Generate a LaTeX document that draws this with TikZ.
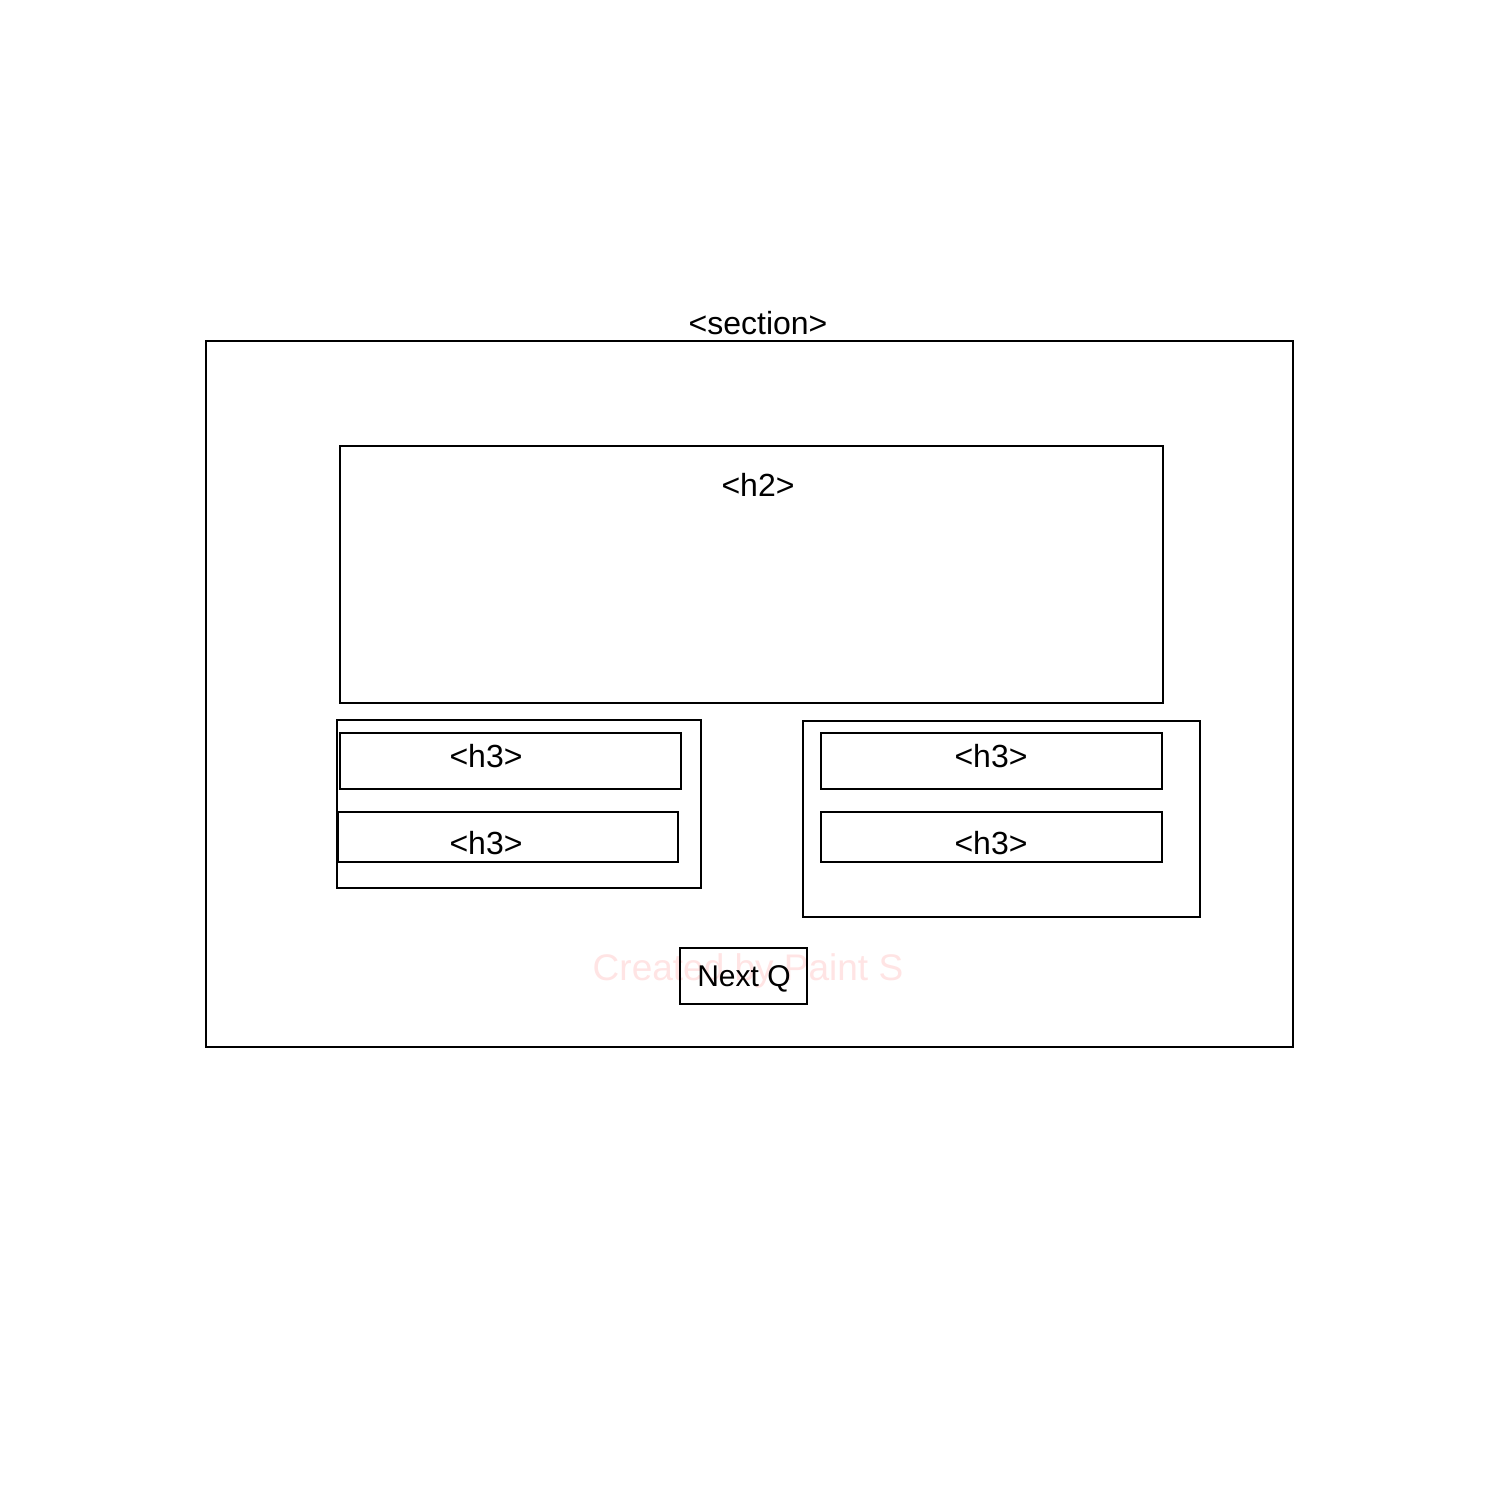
\documentclass[tikz,border=0pt]{standalone}
\usepackage{fontspec}
\setmainfont{Liberation Sans}
\definecolor{wmpink}{RGB}{255,228,228}
\begin{document}
\begin{tikzpicture}[x=0.5pt,y=-0.5pt,
  box/.style={draw=black, line width=1pt, rectangle, inner sep=0pt, fill=none},
  lbl/.style={inner sep=0pt, font=\fontsize{16pt}{18pt}\selectfont},
  wm/.style={inner sep=0pt, text=wmpink, font=\fontsize{18.5pt}{20pt}\selectfont}]
\useasboundingbox (0,0) rectangle (1500,1500);
\fill[white] (0,0) rectangle (1500,1500);
% faint watermark
\node[wm] (wmark) at (748,971) {Created by Paint S};
% boxes
\node[box, minimum width=543.5pt, minimum height=353pt] (section) at (749.5,694) {};
\node[box, minimum width=411.5pt, minimum height=128.5pt] (h2) at (751.5,574.5) {};
\node[box, minimum width=182pt, minimum height=84pt] (leftc) at (519,804) {};
\node[box, minimum width=170.5pt, minimum height=28pt] (lt) at (510.5,761) {};
\node[box, minimum width=170pt, minimum height=25pt] (lb) at (508,837) {};
\node[box, minimum width=198.5pt, minimum height=98pt] (rightc) at (1001.5,819) {};
\node[box, minimum width=170.5pt, minimum height=28pt] (rt) at (991.5,761) {};
\node[box, minimum width=170.5pt, minimum height=25pt] (rb) at (991.5,837) {};
\node[box, minimum width=63.5pt, minimum height=28pt] (next) at (743.5,976) {};
% labels
\node[lbl] (sectionlbl) at (758,323) {<section>};
\node[lbl] (h2lbl) at (758,485) {<h2>};
\node[lbl] (ltlbl) at (486,756) {<h3>};
\node[lbl] (lblbl) at (486,843) {<h3>};
\node[lbl] (rtlbl) at (991,756) {<h3>};
\node[lbl] (rblbl) at (991,843) {<h3>};
\node[lbl, font=\fontsize{15pt}{17pt}\selectfont] (nextlbl) at (744,979) {Next Q};
\end{tikzpicture}
\end{document}
